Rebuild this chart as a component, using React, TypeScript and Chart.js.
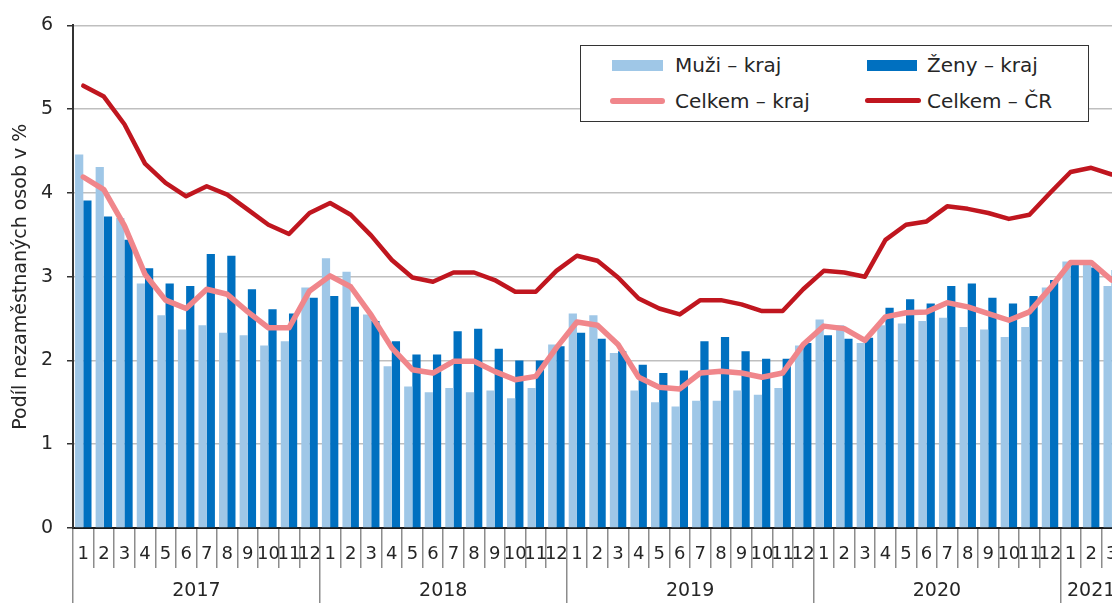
import React, { useEffect, useRef } from 'react';
import { Chart, registerables } from 'chart.js';

Chart.register(...registerables);

// ---- categories ----
const monthNames = ['1', '2', '3', '4', '5', '6', '7', '8', '9', '10', '11', '12'];
const categories = [...monthNames, ...monthNames, ...monthNames, ...monthNames, '1', '2', '3'];
const years = ['2017', '2018', '2019', '2020', '2021'];
const yearCenters = [5.5, 17.5, 29.5, 41.5, 49];
const yearBounds = [-0.5, 11.5, 23.5, 35.5, 47.5];

// ---- series (2017-1 .. 2021-3) ----
const muziKraj = [
  4.46, 4.31, 3.7, 2.92, 2.54, 2.37, 2.42, 2.33, 2.3, 2.18, 2.23, 2.87,
  3.22, 3.06, 2.55, 1.93, 1.69, 1.62, 1.67, 1.62, 1.64, 1.55, 1.67, 2.19,
  2.56, 2.54, 2.09, 1.64, 1.5, 1.45, 1.52, 1.52, 1.64, 1.59, 1.67, 2.18,
  2.49, 2.42, 2.21, 2.42, 2.44, 2.47, 2.51, 2.4, 2.37, 2.28, 2.4, 2.87,
  3.18, 3.18, 2.89,
];
const zenyKraj = [
  3.91, 3.72, 3.44, 3.1, 2.92, 2.89, 3.27, 3.25, 2.85, 2.61, 2.56, 2.75,
  2.77, 2.64, 2.47, 2.23, 2.07, 2.07, 2.35, 2.38, 2.14, 2.0, 2.0, 2.17,
  2.33, 2.26, 2.11, 1.95, 1.85, 1.88, 2.23, 2.28, 2.11, 2.02, 2.02, 2.21,
  2.3, 2.26, 2.27, 2.63, 2.73, 2.68, 2.89, 2.92, 2.75, 2.68, 2.77, 2.96,
  3.15, 3.11, 3.08,
];
const celkemKraj = [
  4.19, 4.04, 3.61, 3.03, 2.72, 2.62, 2.85, 2.79, 2.58, 2.39, 2.39, 2.83,
  3.01, 2.88, 2.54, 2.15, 1.89, 1.85, 1.99, 1.99, 1.87, 1.77, 1.81, 2.15,
  2.46, 2.42, 2.19, 1.8, 1.68, 1.66, 1.85, 1.87, 1.85, 1.8, 1.85, 2.19,
  2.41, 2.38, 2.24, 2.52, 2.57, 2.58, 2.69, 2.64, 2.56, 2.48, 2.58, 2.86,
  3.17, 3.17, 2.96,
];
const celkemCR = [
  5.28, 5.15, 4.82, 4.35, 4.12, 3.96, 4.08, 3.98, 3.8, 3.62, 3.51, 3.76,
  3.88, 3.74, 3.49, 3.2, 2.99, 2.94, 3.05, 3.05, 2.96, 2.82, 2.82, 3.07,
  3.25, 3.19, 2.99, 2.74, 2.62, 2.55, 2.72, 2.72, 2.67, 2.59, 2.59, 2.85,
  3.07, 3.05, 3.0, 3.44, 3.62, 3.66, 3.84, 3.81, 3.76, 3.69, 3.74, 4.0,
  4.25, 4.3, 4.22,
];

const LIGHT = '#9fc7e7';
const DARK = '#0070c0';
const PINK = '#f0868b';
const RED = '#c0161f';
const TEXT = '#262626';
const SEP = '#8c8c8c';
const FONT = "'DejaVu Sans', sans-serif";

const W = 1122;
const H = 610;

export default function App() {
  const ref = useRef<HTMLCanvasElement | null>(null);

  useEffect(() => {
    document.body.style.overflow = 'hidden';
    document.documentElement.style.overflow = 'hidden';
    const canvas = ref.current;
    if (!canvas) return;
    Chart.defaults.font.family = FONT;
    const chart = new Chart(canvas, {
      type: 'bar',
      data: {
        labels: categories,
        datasets: [
          {
            type: 'line',
            label: 'Celkem – ČR',
            data: celkemCR,
            borderColor: RED,
            backgroundColor: RED,
            borderWidth: 4.5,
            pointRadius: 0,
            tension: 0,
            borderJoinStyle: 'round',
            borderCapStyle: 'round',
            order: 0,
          } as any,
          {
            type: 'line',
            label: 'Celkem – kraj',
            data: celkemKraj,
            borderColor: PINK,
            backgroundColor: PINK,
            borderWidth: 5.5,
            pointRadius: 0,
            tension: 0,
            borderJoinStyle: 'round',
            borderCapStyle: 'round',
            order: 1,
          } as any,
          {
            type: 'bar',
            label: 'Muži – kraj',
            data: muziKraj,
            backgroundColor: LIGHT,
            categoryPercentage: 0.8,
            barPercentage: 1,
            order: 2,
          } as any,
          {
            type: 'bar',
            label: 'Ženy – kraj',
            data: zenyKraj,
            backgroundColor: DARK,
            categoryPercentage: 0.8,
            barPercentage: 1,
            order: 2,
          } as any,
        ],
      },
      options: {
        responsive: false,
        animation: false,
        devicePixelRatio: 1,
        layout: { padding: { top: 22, left: 0, right: 0, bottom: 0 } },
        plugins: { legend: { display: false }, tooltip: { enabled: false } },
        scales: {
          x: {
            type: 'category',
            position: 'bottom',
            weight: 0,
            offset: true,
            grid: {
              offset: true,
              drawOnChartArea: false,
              drawTicks: true,
              tickLength: 40,
              color: SEP,
              lineWidth: 1.5,
            },
            border: { display: true, color: '#1a1a1a', width: 2 },
            ticks: {
              autoSkip: false,
              maxRotation: 0,
              minRotation: 0,
              padding: -24,
              color: TEXT,
              font: { size: 18, family: FONT },
            },
            afterFit: (s: any) => {
              s.height = 40;
            },
          },
          x2: {
            type: 'linear',
            position: 'bottom',
            weight: 1,
            min: -0.5,
            max: 50.5,
            offset: false,
            grid: {
              offset: false,
              drawOnChartArea: false,
              drawTicks: true,
              tickLength: 42,
              lineWidth: 1.5,
              color: (ctx: any) =>
                ctx.tick && yearBounds.includes(ctx.tick.value) ? SEP : 'rgba(0,0,0,0)',
            },
            border: { display: false },
            afterBuildTicks: (s: any) => {
              s.ticks = [...yearBounds, ...yearCenters]
                .sort((a, b) => a - b)
                .map((v) => ({ value: v }));
            },
            ticks: {
              autoSkip: false,
              maxRotation: 0,
              minRotation: 0,
              padding: -30,
              color: TEXT,
              font: { size: 19, family: FONT },
              callback: (v: any) => {
                const i = yearCenters.indexOf(Number(v));
                return i >= 0 ? years[i] : '';
              },
            },
            afterFit: (s: any) => {
              s.height = 42;
            },
          },
          y: {
            type: 'linear',
            position: 'left',
            min: 0,
            max: 6,
            ticks: {
              stepSize: 1,
              padding: 14,
              color: TEXT,
              font: { size: 19, family: FONT },
            },
            grid: {
              color: '#bfbfbf',
              lineWidth: 1.5,
              drawTicks: true,
              tickLength: 6,
              tickColor: '#333333',
            },
            border: { color: '#333333', width: 2 },
            title: {
              display: true,
              text: 'Podíl nezaměstnaných osob v %',
              color: TEXT,
              font: { size: 19, family: FONT },
              padding: { top: 10, bottom: 0 },
            },
            afterFit: (s: any) => {
              s.width = 73;
            },
          },
        },
      } as any,
    });
    return () => chart.destroy();
  }, []);

  const legendText: React.CSSProperties = {
    position: 'absolute',
    fontFamily: FONT,
    fontSize: 20,
    lineHeight: '20px',
    color: TEXT,
    whiteSpace: 'nowrap',
  };

  return (
    <div style={{ position: 'absolute', left: 0, top: 0, width: W, height: H, background: '#fff' }}>
      <canvas ref={ref} width={W} height={H} style={{ display: 'block' }} />
      <div
        style={{
          position: 'absolute',
          left: 580,
          top: 45,
          width: 507,
          height: 75,
          border: '1.5px solid #333',
          background: '#fff',
        }}
      />
      <div style={{ position: 'absolute', left: 612, top: 60, width: 51, height: 11, background: LIGHT }} />
      <div style={{ ...legendText, left: 675, top: 55 }}>Muži – kraj</div>
      <div style={{ position: 'absolute', left: 867, top: 60, width: 50, height: 11, background: DARK }} />
      <div style={{ ...legendText, left: 927, top: 55 }}>Ženy – kraj</div>
      <div style={{ position: 'absolute', left: 610, top: 98, width: 55, height: 6, borderRadius: 3, background: PINK }} />
      <div style={{ ...legendText, left: 675, top: 91 }}>Celkem – kraj</div>
      <div style={{ position: 'absolute', left: 865, top: 98, width: 56, height: 5, borderRadius: 3, background: RED }} />
      <div style={{ ...legendText, left: 927, top: 91 }}>Celkem – ČR</div>
    </div>
  );
}
